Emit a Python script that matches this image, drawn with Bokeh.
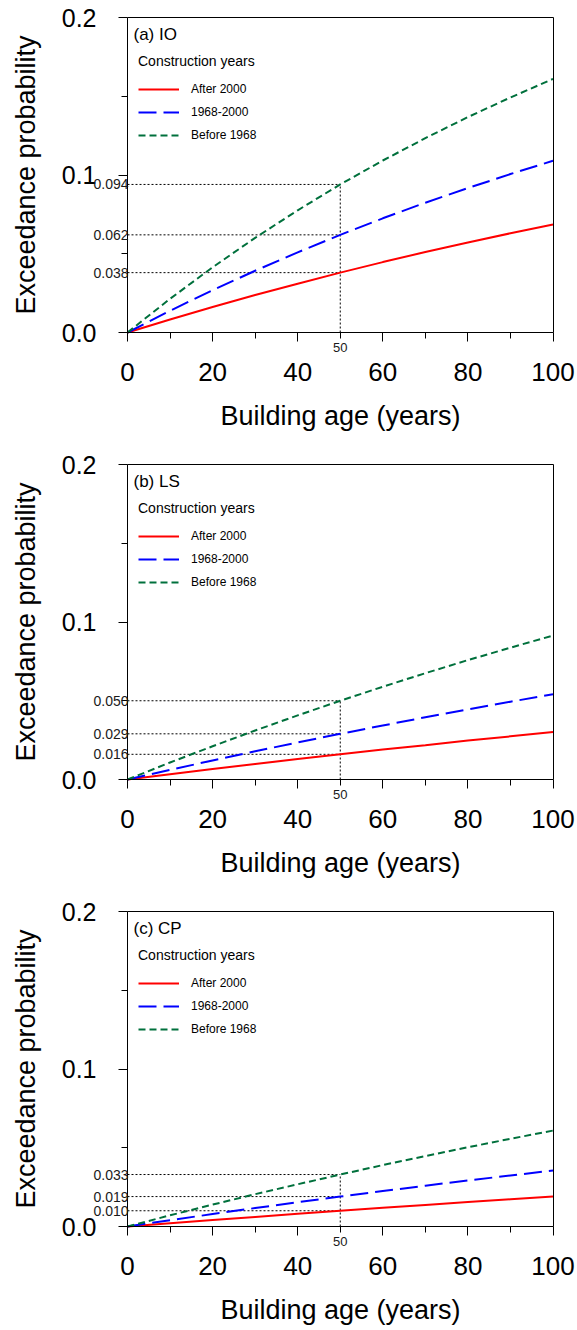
from bokeh.plotting import figure
from bokeh.layouts import column
from bokeh.models import (Range1d, FixedTicker, PrintfTickFormatter, Legend, LegendItem,
                          ColumnDataSource, LabelSet, Label, LinearAxis)
from bokeh.core.properties import value
from bokeh.embed import file_html
from bokeh.resources import INLINE

# ---------------- data ----------------
ages = [0, 10, 20, 30, 40, 50, 60, 70, 80, 90, 100]
series_names = ["After 2000", "1968-2000", "Before 1968"]

io_after_2000 = [0.0, 0.0083, 0.0162, 0.0238, 0.0310, 0.038, 0.0447, 0.0511, 0.0572, 0.0630, 0.0686]
io_1968_2000 = [0.0, 0.0138, 0.0269, 0.0392, 0.0509, 0.062, 0.0725, 0.0824, 0.0917, 0.1006, 0.109]
io_before_1968 = [0.0, 0.0214, 0.0414, 0.0601, 0.0776, 0.094, 0.1092, 0.1234, 0.1368, 0.1492, 0.161]

ls_after_2000 = [0.0, 0.0034, 0.0066, 0.0098, 0.0130, 0.016, 0.0190, 0.0218, 0.0247, 0.0274, 0.0301]
ls_1968_2000 = [0.0, 0.0061, 0.0121, 0.0179, 0.0235, 0.029, 0.0343, 0.0395, 0.0445, 0.0494, 0.0541]
ls_before_1968 = [0.0, 0.0108, 0.0211, 0.0311, 0.0407, 0.050, 0.0589, 0.0675, 0.0758, 0.0837, 0.0914]

cp_after_2000 = [0.0, 0.0021, 0.0041, 0.0061, 0.0081, 0.010, 0.0119, 0.0137, 0.0155, 0.0173, 0.0190]
cp_1968_2000 = [0.0, 0.0040, 0.0079, 0.0117, 0.0154, 0.019, 0.0225, 0.0259, 0.0292, 0.0324, 0.0355]
cp_before_1968 = [0.0, 0.0071, 0.0139, 0.0205, 0.0268, 0.033, 0.0390, 0.0447, 0.0503, 0.0557, 0.0609]

ref_age = 50
io_ref = [0.038, 0.062, 0.094]
ls_ref = [0.016, 0.029, 0.050]
cp_ref = [0.010, 0.019, 0.033]

panel_titles = ["(a) IO", "(b) LS", "(c) CP"]
x_min, x_max = 0, 100
y_min, y_max = 0.0, 0.2
x_ticks = [0, 20, 40, 60, 80, 100]
x_minor = [10, 30, 50, 70, 90]
y_ticks = [0.0, 0.1, 0.2]
y_minor = [0.05, 0.15]
x_title = "Building age (years)"
y_title = "Exceedance probability"
legend_title = "Construction years"

# ---------------- layout / style ----------------
FONT = "Liberation Sans"
colors = ["#FF0000", "#0000FF", "#00703C"]
dashes = ["solid", "18 7", "7 4"]
W = 577
HEIGHTS = [447, 447, 436]
BOX_LEFT, BOX_RIGHT = 127.0, 552.5     # pixel position of x=0 and x=100
BOX_TOP, BOX_BOTTOM = 17.0, 332.0      # pixel position of y=0.2 and y=0
px_x = (BOX_RIGHT - BOX_LEFT) / (x_max - x_min)
px_y = (BOX_BOTTOM - BOX_TOP) / (y_max - y_min)

panels = [
    (panel_titles[0], [io_after_2000, io_1968_2000, io_before_1968], io_ref),
    (panel_titles[1], [ls_after_2000, ls_1968_2000, ls_before_1968], ls_ref),
    (panel_titles[2], [cp_after_2000, cp_1968_2000, cp_before_1968], cp_ref),
]


def style_axis(ax):
    ax.axis_line_color = "black"
    ax.axis_line_width = 1
    ax.major_tick_line_color = "black"
    ax.minor_tick_line_color = "black"
    ax.major_tick_out = 9
    ax.major_tick_in = 0
    ax.minor_tick_out = 6
    ax.minor_tick_in = 0
    ax.major_label_text_font = FONT
    ax.major_label_text_color = "black"
    ax.axis_label_text_font = FONT
    ax.axis_label_text_font_style = "normal"
    ax.axis_label_text_color = "black"
    ax.axis_label_text_font_size = "27px"


figs = []
for i, (ptitle, series, refs) in enumerate(panels):
    H = HEIGHTS[i]
    xr = Range1d(x_min - BOX_LEFT / px_x, x_max + (W - BOX_RIGHT) / px_x)
    yr = Range1d(y_min - (H - BOX_BOTTOM) / px_y, y_max + BOX_TOP / px_y)
    p = figure(width=W, height=H, output_backend="svg", toolbar_location=None,
               x_range=xr, y_range=yr, min_border=0,
               min_border_left=0, min_border_right=0, min_border_top=0, min_border_bottom=0)
    p.background_fill_color = "white"
    p.border_fill_color = "white"
    p.outline_line_color = None
    p.xgrid.visible = False
    p.ygrid.visible = False

    # main axes, pinned at the data origin
    xa = p.xaxis[0]
    ya = p.yaxis[0]
    xa.fixed_location = y_min
    ya.fixed_location = x_min
    xa.bounds = (x_min, x_max)
    ya.bounds = (y_min, y_max)
    xa.ticker = FixedTicker(ticks=x_ticks, minor_ticks=x_minor)
    ya.ticker = FixedTicker(ticks=y_ticks, minor_ticks=y_minor)
    ya.formatter = PrintfTickFormatter(format="%.1f")
    xa.formatter = PrintfTickFormatter(format="%d")
    style_axis(xa)
    style_axis(ya)
    xa.major_label_text_font_size = "26px"
    ya.major_label_text_font_size = "25px"
    xa.major_label_standoff = 21
    ya.major_label_standoff = 22
    xa.axis_label = x_title
    ya.axis_label = y_title
    xa.axis_label_standoff = 17
    ya.axis_label_standoff = 18

    # top and right border of the box
    top_ax = LinearAxis(fixed_location=y_max, bounds=(x_min, x_max),
                        ticker=FixedTicker(ticks=[]), axis_line_color="black",
                        major_tick_line_color=None, minor_tick_line_color=None,
                        major_label_text_font_size="0px")
    right_ax = LinearAxis(fixed_location=x_max, bounds=(y_min, y_max),
                          ticker=FixedTicker(ticks=[]), axis_line_color="black",
                          major_tick_line_color=None, minor_tick_line_color=None,
                          major_label_text_font_size="0px")
    p.add_layout(top_ax, "above")
    p.add_layout(right_ax, "right")

    # reference dotted lines at age 50
    n = len(refs)
    p.segment(x0=[x_min] * n, y0=refs, x1=[ref_age] * n, y1=refs,
              line_color="black", line_width=1, line_dash="2 2")
    p.segment(x0=[ref_age], y0=[y_min], x1=[ref_age], y1=[max(refs)],
              line_color="black", line_width=1, line_dash="2 2")

    # curves
    items = []
    for name, vals, c, d in zip(series_names, series, colors, dashes):
        r = p.line(ages, vals, line_color=c, line_width=2, line_dash=d)
        items.append(LegendItem(label=name, renderers=[r]))

    legend = Legend(items=items, location=(int(BOX_LEFT + 11), int(H - BOX_TOP - 128.5)),
                    title=legend_title,
                    title_text_font=FONT, title_text_font_size="14px",
                    title_text_font_style="normal", title_text_color="black",
                    title_standoff=9,
                    label_text_font=FONT, label_text_font_size="12px", label_text_color="black",
                    label_standoff=12, glyph_width=41, glyph_height=22, label_height=22,
                    spacing=1, padding=0, margin=0,
                    border_line_color=None, background_fill_alpha=0)
    p.add_layout(legend)

    # reference value labels
    src = ColumnDataSource(dict(x=[x_min] * n, y=refs, text=["%.3f" % v for v in refs]))
    p.add_layout(LabelSet(x="x", y="y", text="text", source=src, x_offset=1,
                          text_align="right", text_baseline="middle",
                          text_font=value(FONT), text_font_size=value("14px"),
                          text_color="#1a1a1a"))
    p.add_layout(Label(x=ref_age, y=y_min, text=str(ref_age), y_offset=-15,
                       text_align="center", text_baseline="middle",
                       text_font=FONT, text_font_size="13px", text_color="#1a1a1a"))
    # panel label
    p.add_layout(Label(x=x_min, y=y_max, text=ptitle, x_offset=6, y_offset=-7,
                       text_align="left", text_baseline="top",
                       text_font=FONT, text_font_size="17px", text_color="black"))
    figs.append(p)

layout = column(*figs, spacing=0)
open("out.html", "w").write(file_html(layout, INLINE))
